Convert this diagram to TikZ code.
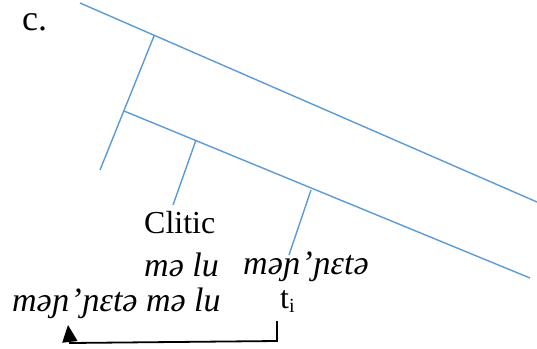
\documentclass[tikz,border=0pt]{standalone}
\usepackage{fontspec}
\setmainfont{Liberation Serif}
\usetikzlibrary{arrows.meta}
\definecolor{treeblue}{RGB}{91,155,213}
\newcommand{\ipaword}{mə\kern0.5ptɲ\kern1pt\char"27\kern1ptɲɛtə}
\tikzset{
  branch/.style={draw=treeblue, line width=1.4pt},
  word/.style={inner sep=0pt, anchor=base west, font=\fontsize{32}{38}\selectfont},
  ipa/.style={word, font=\fontsize{34}{40}\selectfont\itshape},
  movearrow/.style={draw=black, line width=1.8pt, -{Triangle[length=17pt,width=15pt]}}
}
\begin{document}
\begin{tikzpicture}[x=1pt,y=-1pt]
\useasboundingbox (0,0) rectangle (537,348);
% tree
\coordinate (top0) at (80,3);
\coordinate (top1) at (537,202);
\coordinate (b1) at (154,36);
\coordinate (b1end) at (100,170);
\coordinate (low0) at (124,111);
\coordinate (low1) at (530,278);
\coordinate (b2) at (196,140);
\coordinate (b2end) at (173,205);
\coordinate (b3) at (311,190);
\coordinate (b3end) at (289,255);
\draw[branch] (top0) -- (top1);
\draw[branch] (b1) -- (b1end);
\draw[branch] (low0) -- (low1);
\draw[branch] (b2) -- (b2end);
\draw[branch] (b3) -- (b3end);
% texts
\node[word, font=\fontsize{36}{40}\selectfont] (label) at (22,30) {c.};
\node[word] (clitic) at (144,233) {Clitic};
\node[ipa] (malu) at (144,276) {mə lu};
\node[ipa] (verb) at (243,274) {\ipaword};
\node[ipa] (moved) at (12,311) {\ipaword{} mə lu};
\node[word] (trace) at (280,308) {t\raisebox{-0.3ex}{\fontsize{20}{20}\selectfont i}};
% movement arrow
\coordinate (a0) at (277,321);
\coordinate (a1) at (277,341);
\coordinate (a2) at (70,343);
\coordinate (a3) at (68,325);
\draw[movearrow] (a0) -- (a1) -- (a2) -- (a3);
\end{tikzpicture}
\end{document}
